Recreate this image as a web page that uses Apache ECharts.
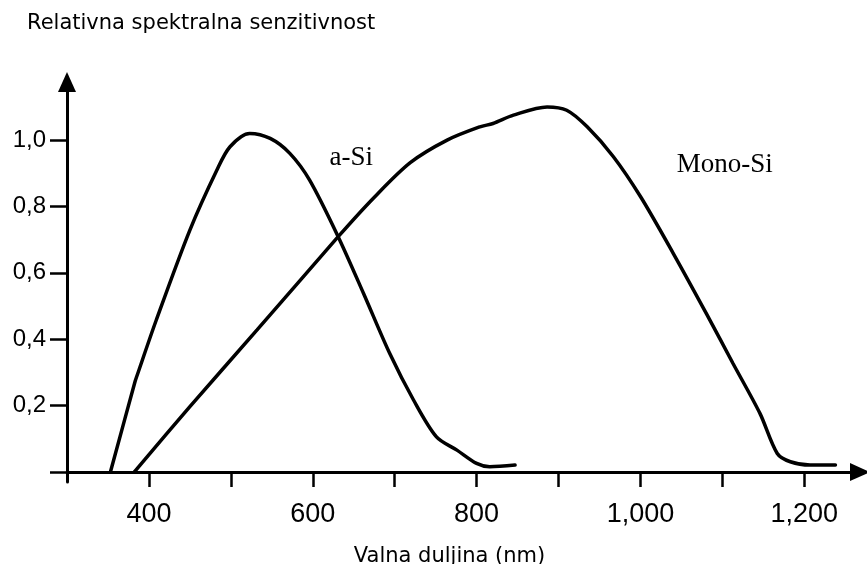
<!DOCTYPE html>
<html>
<head>
    <meta charset="utf-8">
    <title>Relativna spektralna senzitivnost</title>
    <script src="https://cdn.jsdelivr.net/npm/echarts@6/dist/echarts.min.js"></script>
    <style>
        html, body { margin: 0; padding: 0; background: #fff; }
        #chart { width: 867px; height: 564px; }
    </style>
</head>
<body>
<div id="chart"></div>
<script type="text/javascript">
    // valna duljina (nm) i relativna osjetljivost, ocitano sa slike
    var aSiWave = [353, 383, 385, 409, 450, 483, 499, 523, 548, 572, 596, 631, 662, 694, 723, 751, 776, 800, 816, 847];
    var aSiSens = [0, 0.272, 0.287, 0.458, 0.729, 0.910, 0.980, 1.020, 1.005, 0.960, 0.880, 0.709, 0.538, 0.357, 0.217, 0.106, 0.066, 0.026, 0.016, 0.021];

    var monoWave = [382, 450, 532, 631, 674, 719, 764, 804, 820, 845, 886, 910, 935, 967, 1000, 1040, 1081, 1113, 1146, 1167, 1183, 1207, 1238];
    var monoSens = [0, 0.197, 0.428, 0.709, 0.825, 0.932, 1.000, 1.040, 1.050, 1.075, 1.100, 1.090, 1.040, 0.950, 0.830, 0.659, 0.475, 0.327, 0.176, 0.056, 0.031, 0.021, 0.021];

    var xTicks = [400, 500, 600, 700, 800, 900, 1000, 1100, 1200];
    var xLabels = [400, 600, 800, 1000, 1200];
    var yTicks = [0, 0.2, 0.4, 0.6, 0.8, 1.0];
    var yLabels = [0.2, 0.4, 0.6, 0.8, 1.0];

    // natpisi krivulja (polozaj u koordinatama podataka)
    var aSiNote = {name: 'a-Si', coord: [647, 0.946]};
    var monoNote = {name: 'Mono-Si', coord: [1103, 0.925]};

    function pairs(xs, ys) {
        var out = [];
        for (var i = 0; i < xs.length; i++) {
            out.push([xs[i], ys[i]]);
        }
        return out;
    }

    function fmtX(v) {
        if (v >= 1000) {
            var rest = String(v % 1000);
            while (rest.length < 3) rest = '0' + rest;
            return Math.floor(v / 1000) + ',' + rest;
        }
        return String(v);
    }

    var noteLabel = {
        show: true,
        formatter: '{b}',
        color: '#000',
        fontFamily: 'Liberation Serif',
        fontSize: 27
    };

    var myChart = echarts.init(document.getElementById('chart'));
    myChart.setOption({
        animation: false,
        title: {
            text: 'Relativna spektralna senzitivnost',
            left: 22,
            top: 8,
            textStyle: {
                fontFamily: 'DejaVu Sans',
                fontSize: 21,
                fontWeight: 'normal',
                color: '#000'
            }
        },
        grid: {
            left: 67,
            right: 7,
            top: 82,
            bottom: 82,
            outerBoundsMode: 'none'
        },
        xAxis: [{
            type: 'value',
            min: 300,
            max: 1268,
            name: 'Valna duljina (nm)',
            nameLocation: 'middle',
            nameGap: 64,
            nameTextStyle: {
                fontFamily: 'DejaVu Sans',
                fontSize: 21,
                color: '#000',
                padding: [0, 28, 0, 0]
            },
            axisLine: {
                onZero: true,
                symbol: ['none', 'triangle'],
                symbolSize: [18, 20],
                lineStyle: {color: '#000', width: 3}
            },
            axisTick: {
                customValues: xTicks,
                length: 15,
                lineStyle: {color: '#000', width: 2.5}
            },
            axisLabel: {
                customValues: xLabels,
                formatter: fmtX,
                margin: 19,
                color: '#000',
                fontFamily: 'Liberation Sans',
                fontSize: 27
            },
            splitLine: {show: false}
        }, {
            // kratki dio crtica iznad osi
            type: 'value',
            min: 300,
            max: 1268,
            position: 'bottom',
            axisLine: {show: false, onZero: true},
            axisTick: {
                customValues: xTicks,
                inside: true,
                length: 3,
                lineStyle: {color: '#000', width: 2.5}
            },
            axisLabel: {show: false},
            splitLine: {show: false}
        }],
        yAxis: {
            type: 'value',
            min: -0.03,
            max: 1.175,
            axisLine: {
                show: true,
                symbol: ['none', 'triangle'],
                symbolSize: [18, 20],
                lineStyle: {color: '#000', width: 3}
            },
            axisTick: {
                show: true,
                customValues: yTicks,
                length: 17,
                lineStyle: {color: '#000', width: 2.5}
            },
            axisLabel: {
                customValues: yLabels,
                formatter: function (v) {
                    return v.toFixed(1).replace('.', ',');
                },
                margin: 21,
                color: '#000',
                fontFamily: 'Liberation Sans',
                fontSize: 24
            },
            splitLine: {show: false}
        },
        series: [{
            name: 'a-Si',
            type: 'line',
            smooth: 0.3,
            showSymbol: false,
            lineStyle: {color: '#000', width: 3.5, cap: 'round'},
            data: pairs(aSiWave, aSiSens),
            markPoint: {
                symbolSize: 0,
                label: noteLabel,
                data: [aSiNote]
            }
        }, {
            name: 'Mono-Si',
            type: 'line',
            smooth: 0.3,
            showSymbol: false,
            lineStyle: {color: '#000', width: 3.5, cap: 'round'},
            data: pairs(monoWave, monoSens),
            markPoint: {
                symbolSize: 0,
                label: noteLabel,
                data: [monoNote]
            }
        }]
    });
</script>
</body>
</html>
